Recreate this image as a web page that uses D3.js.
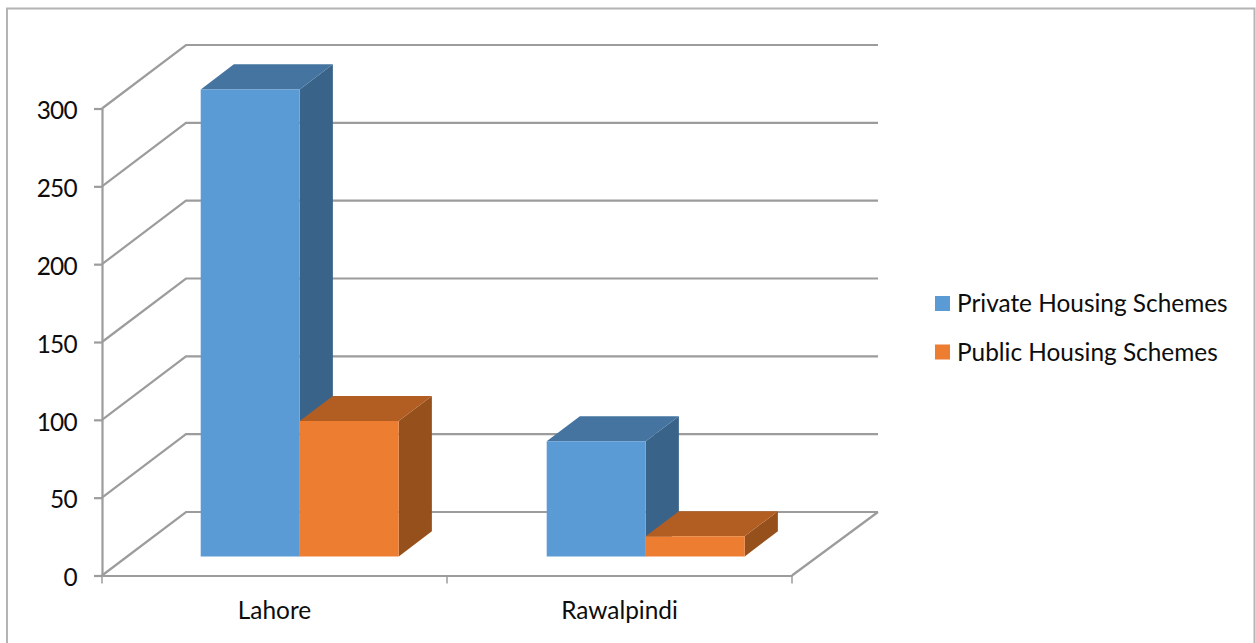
<!DOCTYPE html>
<html>
<head>
<meta charset="utf-8">
<style>
  html, body { margin: 0; padding: 0; background: #fff; }
  svg { display: block; }
  text { font-family: Lato, "Open Sans", sans-serif; fill: #0d0d0d; }
</style>
</head>
<body>
<svg id="chart"></svg>
<script src="https://cdn.jsdelivr.net/npm/d3@7"></script>
<script>
const categories = ["Lahore", "Rawalpindi"];
const seriesNames = ["Private Housing Schemes", "Public Housing Schemes"];
const privateValues = [300, 74];
const publicValues = [87, 13];
const yTicks = [0, 50, 100, 150, 200, 250, 300];

const width = 1256;
const height = 643;
const plotLeft = 102;
const plotRight = 792;
const wallRight = 878;
const plotBottom = 575.5;
const plotTop = 108.5;
const barWidth = 99;
const fontSize = 24.4;

// colours per series: front, top, side
const shades = [
  { front: "#5b9bd5", top: "#44749f", side: "#3a6389" },
  { front: "#ed7d31", top: "#b25e22", side: "#95501b" }
];
const gridColor = "#9c9c9c";

const svg = d3.select("#chart")
  .attr("width", width)
  .attr("height", height);

// outer frame runs off the bottom of the page
svg.append("rect")
  .attr("x", 7)
  .attr("y", 8.5)
  .attr("width", 1247.5)
  .attr("height", height + 10)
  .attr("fill", "#fff")
  .attr("stroke", "#b4b4b4")
  .attr("stroke-width", 2);

const x0 = d3.scaleBand().domain(categories).range([plotLeft, plotRight]);
const barBand = d3.scaleBand().domain(categories).range([plotLeft - 0.5, plotRight + 1.5]);
const x1 = d3.scaleBand().domain(seriesNames)
  .range([barBand.bandwidth() / 2 - barWidth, barBand.bandwidth() / 2 + barWidth]);
const y = d3.scaleLinear().domain([0, 300]).range([plotBottom, plotTop]);

// oblique projection: depth 0 is the front of the floor, 1 is the back wall
const depthX = d3.scaleLinear().domain([0, 1]).range([0, 84]);
const depthY = d3.scaleLinear().domain([0, 1]).range([0, -63.5]);
const barFront = 0.3;
const barBack = 0.695;

const px = (x, d) => x + depthX(d);
const py = (v, d) => y(v) + depthY(d);
const path = pts => "M" + pts.map(p => p.join(",")).join("L") + "Z";

// walls: a diagonal and a back line at every tick
const walls = svg.append("g")
  .attr("fill", "none")
  .attr("stroke", gridColor)
  .attr("stroke-width", 2.2);

yTicks.forEach(t => {
  walls.append("polyline")
    .attr("points", [
      [plotLeft, y(t)],
      [px(plotLeft, 1), py(t, 1)],
      [wallRight, py(t, 1)]
    ].join(" "));
});

walls.append("line")
  .attr("x1", plotRight)
  .attr("y1", y(0))
  .attr("x2", wallRight)
  .attr("y2", py(0, 1));

// axes
const yAxis = d3.axisLeft(y).tickValues(yTicks).tickSize(8).tickSizeOuter(0).tickPadding(17);
const yAxisG = svg.append("g")
  .attr("transform", `translate(${plotLeft}, 0)`)
  .call(yAxis);

const xAxis = d3.axisBottom(x0).tickSize(0).tickSizeOuter(0).tickPadding(26);
const xAxisG = svg.append("g")
  .attr("transform", `translate(0, ${plotBottom})`)
  .call(xAxis);

[yAxisG, xAxisG].forEach(g => {
  g.selectAll("path, line").attr("stroke", gridColor).attr("stroke-width", 2.2);
  g.selectAll("text").attr("font-size", fontSize).attr("font-family", null);
});
yAxisG.selectAll("text")
  .attr("dy", "0.42em")
  .attr("letter-spacing", -0.7);

// category boundary ticks under the floor
xAxisG.selectAll(".boundary")
  .data([plotLeft, plotLeft + x0.step(), plotRight])
  .enter()
  .append("line")
  .attr("class", "boundary")
  .attr("x1", d => d)
  .attr("x2", d => d)
  .attr("y1", 0)
  .attr("y2", 8)
  .attr("stroke", gridColor)
  .attr("stroke-width", 1.5);

// bars
const valuesBySeries = [privateValues, publicValues];
categories.forEach((cat, i) => {
  seriesNames.forEach((name, s) => {
    const v = valuesBySeries[s][i];
    const shade = shades[s];
    const left = barBand(cat) + x1(name);
    const right = left + x1.bandwidth();
    const g = svg.append("g").attr("class", "bar");

    g.append("path")
      .attr("fill", shade.side)
      .attr("d", path([
        [px(right, barFront), py(0, barFront)],
        [px(right, barBack), py(0, barBack)],
        [px(right, barBack), py(v, barBack)],
        [px(right, barFront), py(v, barFront)]
      ]));
    g.append("path")
      .attr("fill", shade.top)
      .attr("d", path([
        [px(left, barFront), py(v, barFront)],
        [px(right, barFront), py(v, barFront)],
        [px(right, barBack), py(v, barBack)],
        [px(left, barBack), py(v, barBack)]
      ]));
    g.append("path")
      .attr("fill", shade.front)
      .attr("d", path([
        [px(left, barFront), py(0, barFront)],
        [px(right, barFront), py(0, barFront)],
        [px(right, barFront), py(v, barFront)],
        [px(left, barFront), py(v, barFront)]
      ]));
  });
});

// legend
const legend = svg.selectAll(".legend")
  .data(seriesNames)
  .enter()
  .append("g")
  .attr("class", "legend")
  .attr("transform", (d, i) => `translate(935, ${296 + i * 48.5})`);

legend.append("rect")
  .attr("width", 15)
  .attr("height", 15)
  .attr("fill", (d, i) => shades[i].front);

legend.append("text")
  .attr("x", 22)
  .attr("y", 16)
  .attr("font-size", fontSize)
  .text(d => d);
</script>
</body>
</html>
